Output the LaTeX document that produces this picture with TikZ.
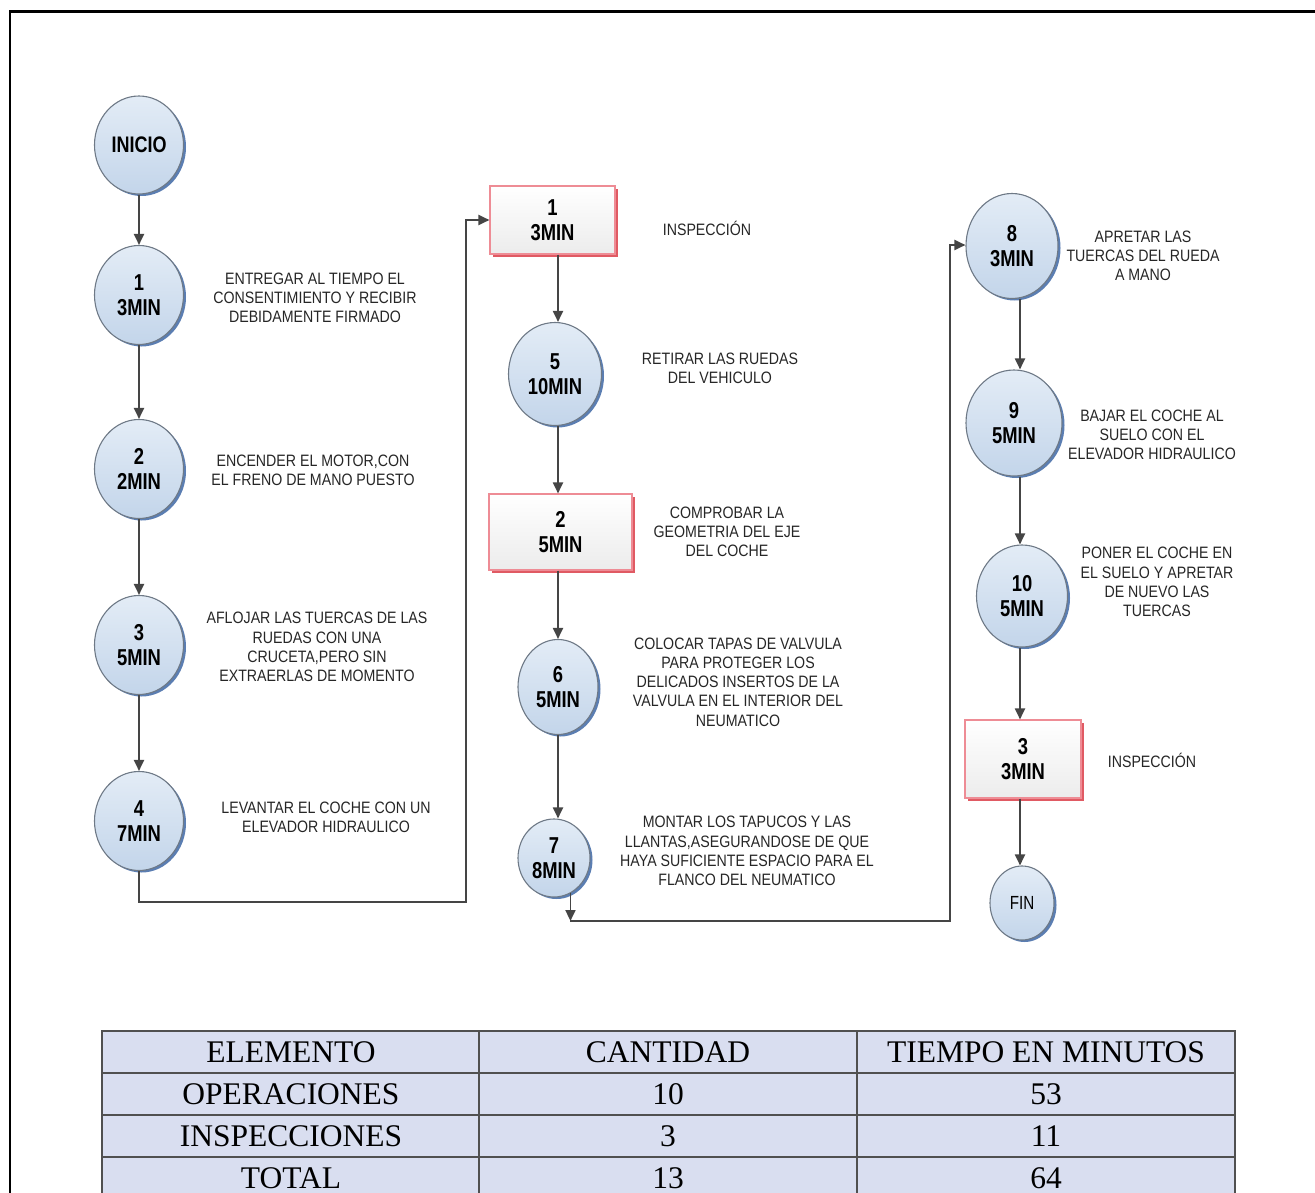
\documentclass[tikz,border=0pt]{standalone}
\usepackage{fontspec}
\usetikzlibrary{shapes.geometric,arrows.meta,shadows}

\newfontfamily\sansnarrow[FakeStretch=0.8]{Liberation Sans}
\newfontfamily\sansdesc[FakeStretch=0.86]{Liberation Sans}
\newfontfamily\serifrm{Liberation Serif}
\newcommand\nodetxt{\sansnarrow\bfseries\fontsize{23}{25}\selectfont}
\newcommand\desctxt{\sansdesc\fontsize{16.5}{19.3}\selectfont}
\newcommand\tabtxt{\serifrm\fontsize{31.5}{34}\selectfont}

\definecolor{circtop}{HTML}{E3ECF6}
\definecolor{circbot}{HTML}{C3D5EA}
\definecolor{circborder}{HTML}{6E7986}
\definecolor{circshadow}{HTML}{5B7EB2}
\definecolor{boxborder}{HTML}{EE8C95}
\definecolor{boxshadow}{HTML}{E05A63}
\definecolor{boxbot}{HTML}{ECECEC}
\definecolor{linecol}{HTML}{454545}
\definecolor{desccol}{HTML}{262626}
\definecolor{tabfill}{HTML}{D9DEF0}
\definecolor{tabline}{HTML}{505050}

\tikzset{
  op/.style={ellipse, draw=circborder, line width=1.1pt,
    top color=circtop, bottom color=circbot,
    general shadow={draw=none, fill=circshadow, shadow xshift=2.5pt, shadow yshift=-2pt},
    inner sep=0pt, font=\nodetxt, align=center},
  insp/.style={rectangle, draw=boxborder, line width=1.1pt,
    top color=white, bottom color=boxbot,
    general shadow={draw=none, fill=boxshadow, shadow xshift=3pt, shadow yshift=-3pt},
    inner sep=0pt, font=\nodetxt, align=center},
  desc/.style={font=\desctxt, align=center, inner sep=0pt, text=desccol},
  arr/.style={draw=linecol, line width=1.9pt, -{Triangle[length=11pt,width=10pt]}},
  cell/.style={draw=tabline, line width=1.3pt, fill=tabfill,
    minimum width=378pt, minimum height=42pt, inner sep=0pt, font=\tabtxt},
}

\begin{document}
\begin{tikzpicture}[x=1pt,y=-1pt]
\useasboundingbox (0,0) rectangle (1315,1193);

% page frame
\draw[line width=3pt] (9,12) -- (1315,12);
\draw[line width=2.5pt] (10,12) -- (10,1193);

% ---- first column: operations 1-4
\node[op, minimum width=89pt, minimum height=98pt, font=\sansnarrow\bfseries\fontsize{22.5}{24}\selectfont] (ini) at (139,145) {INICIO};
\node[op, minimum width=89pt, minimum height=99pt] (n1) at (139,295) {1\\3MIN};
\node[op, minimum width=89pt, minimum height=99pt] (n2) at (139,469) {2\\2MIN};
\node[op, minimum width=89pt, minimum height=99pt] (n3) at (139,645) {3\\5MIN};
\node[op, minimum width=89pt, minimum height=99pt] (n4) at (139,821) {4\\7MIN};

\node[desc] (d1) at (315,298) {ENTREGAR AL TIEMPO EL\\CONSENTIMIENTO Y RECIBIR\\DEBIDAMENTE FIRMADO};
\node[desc] (d2) at (313,470) {ENCENDER EL MOTOR,CON\\EL FRENO DE MANO PUESTO};
\node[desc] (d3) at (317,647) {AFLOJAR LAS TUERCAS DE LAS\\RUEDAS CON UNA\\CRUCETA,PERO SIN\\EXTRAERLAS DE MOMENTO};
\node[desc] (d4) at (326,817) {LEVANTAR EL COCHE CON UN\\ELEVADOR HIDRAULICO};

% ---- second column
\node[insp, minimum width=125pt, minimum height=68pt] (b1) at (552.5,220) {1\\3MIN};
\node[op, minimum width=93pt, minimum height=103pt] (n5) at (555,374) {5\\10MIN};
\node[insp, minimum width=143pt, minimum height=76pt] (b2) at (560.5,532) {2\\5MIN};
\node[op, minimum width=80pt, minimum height=95pt] (n6) at (558,687) {6\\5MIN};
\node[op, minimum width=72pt, minimum height=78pt] (n7) at (554,858) {7\\8MIN};

\node[desc] (i1) at (707,228) {INSPECCIÓN};
\node[desc] (d5) at (720,368) {RETIRAR LAS RUEDAS\\DEL VEHICULO};
\node[desc] (d6) at (727,532) {COMPROBAR LA\\GEOMETRIA DEL EJE\\DEL COCHE};
\node[desc] (d7) at (738,682) {COLOCAR TAPAS DE VALVULA\\PARA PROTEGER LOS\\DELICADOS INSERTOS DE LA\\VALVULA EN EL INTERIOR DEL\\NEUMATICO};
\node[desc] (d8) at (747,851) {MONTAR LOS TAPUCOS Y LAS\\LLANTAS,ASEGURANDOSE DE QUE\\HAYA SUFICIENTE ESPACIO PARA EL\\FLANCO DEL NEUMATICO};

% ---- third column
\node[op, minimum width=92pt, minimum height=105pt] (n8) at (1012,246) {8\\3MIN};
\node[op, minimum width=96pt, minimum height=106pt] (n9) at (1014,423) {9\\5MIN};
\node[op, minimum width=91pt, minimum height=102pt] (n10) at (1022,596) {10\\5MIN};
\node[insp, minimum width=116pt, minimum height=78pt] (b3) at (1023,759) {3\\3MIN};
\node[op, minimum width=64pt, minimum height=74pt, font=\sansnarrow\fontsize{19}{21}\selectfont] (fin) at (1022,903) {FIN};

\node[desc] (d9) at (1143,256) {APRETAR LAS\\TUERCAS DEL RUEDA\\A MANO};
\node[desc] (d10) at (1152,435) {BAJAR EL COCHE AL\\SUELO CON EL\\ELEVADOR HIDRAULICO};
\node[desc] (d11) at (1157,582) {PONER EL COCHE EN\\EL SUELO Y APRETAR\\DE NUEVO LAS\\TUERCAS};
\node[desc] (i2) at (1152,760) {INSPECCIÓN};

% ---- connectors
\draw[arr] (ini) -- (n1);
\draw[arr] (n1) -- (n2);
\draw[arr] (n2) -- (n3);
\draw[arr] (n3) -- (n4);

\coordinate (turnA) at (466,902);
\draw[arr] (n4.south) |- (turnA) |- (b1.west);

\coordinate (colB) at (558,0);
\draw[arr] (b1.south -| colB) -- (n5.north -| colB);
\draw[arr] (n5.south -| colB) -- (b2.north -| colB);
\draw[arr] (b2.south -| colB) -- (n6.north -| colB);
\draw[arr] (n6.south -| colB) -- (n7.north -| colB);

\coordinate (turnB) at (570,921);
\coordinate (turnC) at (950,245);
\draw[arr] (n7.-65) -- (n7.-65 |- turnB);
\draw[arr] (n7.-65 |- turnB) -| (turnC) -- (turnC -| n8.west);

\coordinate (colC) at (1020,0);
\draw[arr] (n8.south -| colC) -- (n9.north -| colC);
\draw[arr] (n9.south -| colC) -- (n10.north -| colC);
\draw[arr] (n10.south -| colC) -- (b3.north -| colC);
\draw[arr] (b3.south -| colC) -- (fin.north -| colC);

% ---- summary table
\node[cell] (t11) at (291,1052) {ELEMENTO};
\node[cell] (t12) at (668,1052) {CANTIDAD};
\node[cell] (t13) at (1046,1052) {TIEMPO EN MINUTOS};
\node[cell] (t21) at (291,1094) {OPERACIONES};
\node[cell] (t22) at (668,1094) {10};
\node[cell] (t23) at (1046,1094) {53};
\node[cell] (t31) at (291,1136) {INSPECCIONES};
\node[cell] (t32) at (668,1136) {3};
\node[cell] (t33) at (1046,1136) {11};
\node[cell] (t41) at (291,1178) {TOTAL};
\node[cell] (t42) at (668,1178) {13};
\node[cell] (t43) at (1046,1178) {64};
\end{tikzpicture}
\end{document}
